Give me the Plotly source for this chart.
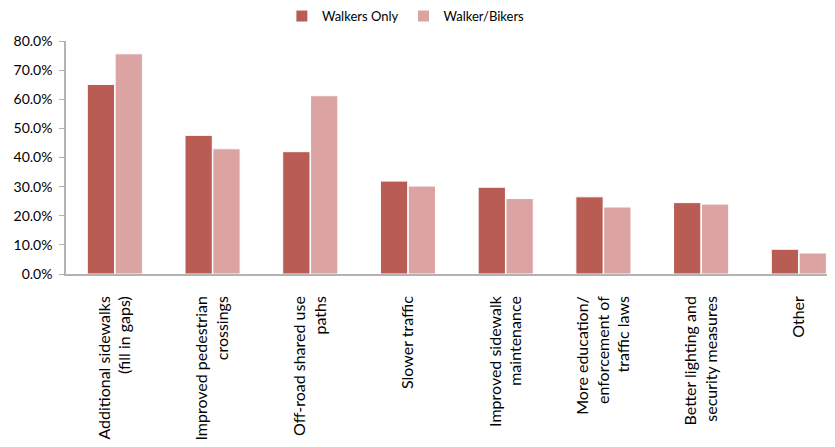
import plotly.graph_objects as go

categories = [
    "Additional sidewalks<br>(fill in gaps)",
    "Improved pedestrian<br>crossings",
    "Off-road shared use<br>paths",
    "Slower traffic",
    "Improved sidewalk<br>maintenance",
    "More education/<br>enforcement of<br>traffic laws",
    "Better lighting and<br>security measures",
    "Other",
]
walkers_only = [65.1, 47.6, 42.0, 31.9, 29.8, 26.5, 24.5, 8.5]
walker_bikers = [75.6, 43.0, 61.2, 30.2, 25.9, 23.0, 24.0, 7.2]
y_ticks = [0, 10, 20, 30, 40, 50, 60, 70, 80]

FONT = "Lato"

fig = go.Figure()
fig.add_trace(go.Bar(
    x=categories, y=walkers_only, name="Walkers Only",
    marker=dict(color="#B95C54", line=dict(color="#FFFFFF", width=1)),
))
fig.add_trace(go.Bar(
    x=categories, y=walker_bikers, name="Walker/Bikers",
    marker=dict(color="#DBA3A2", line=dict(color="#FFFFFF", width=1)),
))

fig.update_layout(
    width=835, height=447,
    margin=dict(l=58, r=8, t=33, b=181, autoexpand=False),
    paper_bgcolor="white", plot_bgcolor="white",
    barmode="group", bargap=0.43, bargroupgap=0.02,
    font=dict(family=FONT, size=13, color="#000000"),
    legend=dict(orientation="h", x=0.442, xanchor="center", y=1.107, yanchor="middle",
                font=dict(family=FONT, size=13), itemwidth=30, tracegroupgap=0),
    xaxis=dict(
        type="category", range=[-0.5, 7.37], automargin=False,
        showline=True, linecolor="#B3B3B3", linewidth=1.5,
        ticks="", tickangle=-90, showgrid=False,
        tickfont=dict(family=FONT, size=16),
        ticklabelstandoff=14,
    ),
    yaxis=dict(
        range=[0, 80], tickvals=y_ticks, automargin=False,
        ticktext=[f"{v:.1f}%" for v in y_ticks],
        showline=True, linecolor="#B3B3B3", linewidth=1.5,
        ticks="outside", ticklen=5, tickcolor="#B3B3B3",
        showgrid=False, zeroline=False,
        tickfont=dict(family=FONT, size=14),
        ticklabelstandoff=4,
    ),
)

fig.write_html("out.html")
